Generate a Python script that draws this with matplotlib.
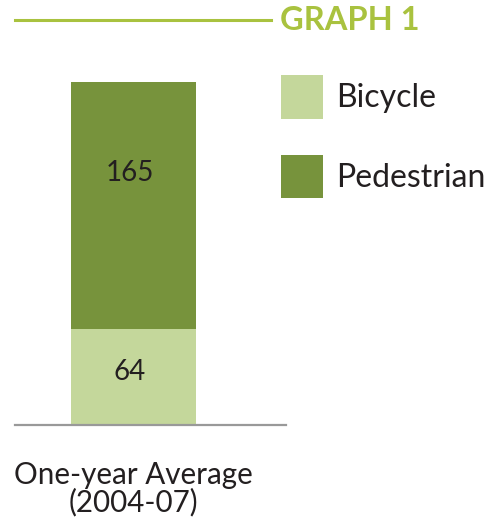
import matplotlib.pyplot as plt
from matplotlib.lines import Line2D
from matplotlib.patches import Patch

plt.rcParams['font.family'] = ['Lato', 'DejaVu Sans']

category = ["One-year Average\n(2004-07)"]
series = ["Bicycle", "Pedestrian"]
bicycle = [64]
pedestrian = [165]
colors = ["#C4D79B", "#77933C"]
title = "GRAPH 1"
txt_col = "#231F20"

W, H = 498, 517
fig = plt.figure(figsize=(W / 100, H / 100), dpi=100)

# axes placed in pixel terms of the reference
ax = fig.add_axes([15 / W, (H - 425) / H, 271 / W, 343 / H])
x = [0]
ax.bar(x, bicycle, width=1, color=colors[0], linewidth=0)
ax.bar(x, pedestrian, width=1, bottom=bicycle, color=colors[1], linewidth=0)
ax.set_xlim(-0.948, 1.22)
ax.set_ylim(0, sum(bicycle) + sum(pedestrian))

for xi, b, p in zip(x, bicycle, pedestrian):
    ax.text(xi - 0.03, b * 0.55, str(b), ha="center", va="center", fontsize=20,
            color=txt_col)
    ax.text(xi - 0.03, b + p * 0.63, str(p), ha="center", va="center", fontsize=20,
            color=txt_col)

for s in ["top", "right", "left"]:
    ax.spines[s].set_visible(False)
ax.spines["bottom"].set_color("#999999")
ax.spines["bottom"].set_linewidth(1.6)
ax.set_yticks([])
ax.set_xticks(x)
ax.set_xticklabels(category, fontsize=21.3, color=txt_col, linespacing=0.95)
ax.tick_params(axis="x", length=0, pad=26)

# header line and title
fig.add_artist(Line2D([15 / W, 271 / W], [1 - 19.5 / H, 1 - 19.5 / H],
                      color="#A9C23F", linewidth=2.2, transform=fig.transFigure))
fig.text(280 / W, 1 - 20 / H, title, ha="left", va="center", fontsize=23.5,
         fontweight="bold", color="#A9C23F")

# legend
fs = 23
fpx = fs * 100 / 72
handles = [Patch(facecolor=c, edgecolor="none") for c in colors]
fig.legend(handles, series, loc="upper left", bbox_to_anchor=(281 / W, 1 - 75 / H),
           frameon=False, handlelength=42 / fpx, handleheight=42 / fpx / 0.76,
           labelspacing=36 / fpx, handletextpad=13 / fpx, borderpad=0, borderaxespad=0,
           labelcolor=txt_col, prop={"size": fs})

fig.savefig("out.png", dpi=100)
